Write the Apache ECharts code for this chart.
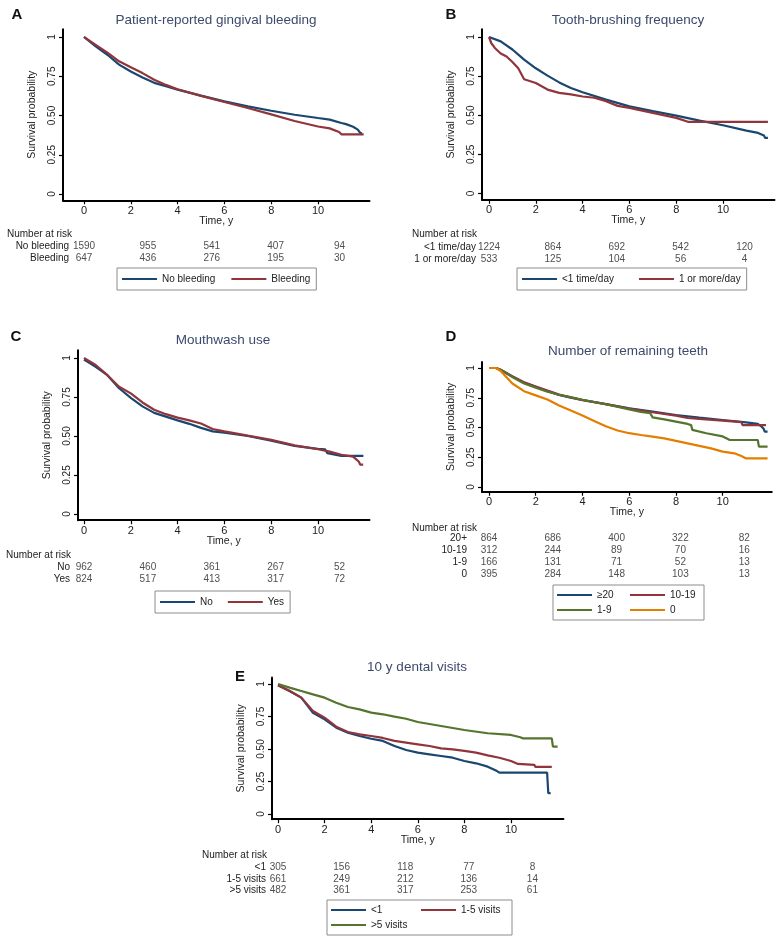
<!DOCTYPE html>
<html>
<head>
<meta charset="utf-8">
<script src="https://cdn.jsdelivr.net/npm/echarts@6/dist/echarts.min.js"></script>
<style>
  html, body { margin: 0; padding: 0; background: #fff; }
  #chart { width: 780px; height: 940px; }
</style>
</head>
<body>
<div id="chart"></div>
<script>
// axis ticks shared by all panels
var xTicks = [0, 2, 4, 6, 8, 10];
var yTicks = [0, 0.25, 0.5, 0.75, 1];
var yTickLabels = ['0', '0.25', '0.50', '0.75', '1'];
var riskTimes = [0, 2.73, 5.46, 8.19, 10.92];

// A - patient-reported gingival bleeding  [time, survival]
var noBleeding = [[0,1],[0.5,0.94],[1,0.887],[1.5,0.824],[2,0.78],[2.5,0.742],[3,0.708],[3.5,0.686],[4,0.665],[5,0.627],[6,0.59],[7,0.558],[8,0.53],[9,0.505],[10,0.484],[10.5,0.474],[11,0.452],[11.2,0.445],[11.5,0.428],[11.7,0.41],[11.8,0.39],[11.88,0.385]];
var bleeding = [[0,1],[0.5,0.95],[1,0.9],[1.5,0.845],[2,0.807],[2.5,0.77],[3,0.728],[3.5,0.695],[4,0.667],[5,0.625],[6,0.586],[7,0.548],[8,0.507],[9,0.465],[10,0.43],[10.5,0.418],[10.9,0.395],[11,0.38],[11.95,0.38]];
var riskNoBleeding = [1590, 955, 541, 407, 94];
var riskBleeding = [647, 436, 276, 195, 30];

// B - tooth-brushing frequency
var brushLess = [[0,1],[0.5,0.972],[1,0.92],[1.5,0.855],[2,0.8],[2.5,0.753],[3,0.71],[3.5,0.674],[4,0.647],[5,0.6],[6,0.557],[7,0.526],[8,0.498],[9,0.466],[10,0.436],[11,0.402],[11.5,0.387],[11.75,0.37],[11.8,0.355],[11.92,0.355]];
var brushMore = [[0,1],[0.1,0.96],[0.25,0.93],[0.5,0.895],[0.75,0.875],[1,0.84],[1.25,0.8],[1.5,0.73],[2,0.706],[2.5,0.664],[3,0.643],[3.5,0.633],[4,0.62],[4.5,0.612],[5,0.59],[5.5,0.56],[6,0.547],[7,0.515],[8,0.483],[8.5,0.458],[11.92,0.458]];
var riskBrushLess = [1224, 864, 692, 542, 120];
var riskBrushMore = [533, 125, 104, 56, 4];

// C - mouthwash use
var mouthNo = [[0,0.99],[0.5,0.944],[1,0.89],[1.5,0.806],[2,0.745],[2.5,0.69],[3,0.648],[3.5,0.624],[4,0.6],[4.5,0.578],[5,0.552],[5.5,0.53],[6,0.522],[7,0.5],[8,0.47],[9,0.437],[10,0.418],[10.3,0.415],[10.4,0.39],[11,0.373],[11.94,0.373]];
var mouthYes = [[0,1],[0.5,0.955],[1,0.89],[1.5,0.816],[2,0.773],[2.5,0.715],[3,0.668],[3.5,0.64],[4,0.618],[4.5,0.6],[5,0.58],[5.5,0.545],[6,0.53],[7,0.502],[8,0.475],[9,0.44],[10,0.415],[10.5,0.4],[11,0.38],[11.5,0.368],[11.6,0.355],[11.75,0.335],[11.8,0.316],[11.93,0.316]];
var riskMouthNo = [962, 460, 361, 267, 52];
var riskMouthYes = [824, 517, 413, 317, 72];

// D - number of remaining teeth
var teeth20 = [[0,1],[0.3,1],[0.5,0.983],[1,0.927],[1.5,0.877],[2,0.843],[2.5,0.807],[3,0.773],[3.5,0.751],[4,0.731],[5,0.697],[6,0.661],[7,0.633],[8,0.605],[9,0.583],[10,0.563],[11,0.543],[11.5,0.53],[11.65,0.51],[11.75,0.49],[11.8,0.465],[11.92,0.465]];
var teeth10 = [[0,1],[0.3,1],[0.5,0.985],[1,0.93],[1.5,0.88],[2,0.845],[2.5,0.81],[3,0.776],[3.5,0.752],[4,0.73],[5,0.697],[6,0.658],[7,0.628],[8,0.6],[8.5,0.58],[9,0.573],[10,0.558],[10.8,0.545],[10.85,0.52],[11.85,0.52]];
var teeth1 = [[0,1],[0.3,1],[0.5,0.985],[1,0.925],[1.5,0.87],[2,0.835],[2.5,0.8],[3,0.775],[3.5,0.755],[4,0.733],[5,0.695],[6,0.652],[6.5,0.63],[6.9,0.62],[7,0.585],[7.5,0.568],[8,0.55],[8.5,0.53],[8.65,0.52],[8.7,0.48],[9.3,0.452],[10,0.425],[10.2,0.405],[10.3,0.395],[11.5,0.395],[11.55,0.34],[11.92,0.34]];
var teeth0 = [[0,1],[0.3,1],[0.5,0.975],[1,0.87],[1.5,0.805],[2,0.77],[2.5,0.735],[3,0.685],[3.5,0.642],[4,0.6],[4.5,0.555],[5,0.51],[5.5,0.475],[6,0.452],[6.5,0.437],[7,0.423],[7.5,0.409],[8,0.387],[8.5,0.367],[9,0.345],[9.5,0.325],[10,0.297],[10.5,0.283],[10.8,0.26],[11,0.24],[11.92,0.24]];
var riskTeeth20 = [864, 686, 400, 322, 82];
var riskTeeth10 = [312, 244, 89, 70, 16];
var riskTeeth1 = [166, 131, 71, 52, 13];
var riskTeeth0 = [395, 284, 148, 103, 13];

// E - 10 y dental visits
var visitsLess1 = [[0,0.99],[0.5,0.946],[1,0.895],[1.5,0.779],[2,0.728],[2.5,0.664],[3,0.626],[3.5,0.6],[4,0.579],[4.5,0.562],[5,0.523],[5.5,0.492],[6,0.472],[6.5,0.459],[7,0.446],[7.5,0.433],[8,0.408],[8.5,0.39],[9,0.364],[9.4,0.33],[9.5,0.318],[11.55,0.318],[11.6,0.16],[11.7,0.16]];
var visits1to5 = [[0,0.99],[0.5,0.946],[1,0.895],[1.5,0.792],[2,0.741],[2.5,0.672],[3,0.631],[3.5,0.613],[4,0.6],[4.5,0.585],[5,0.562],[5.5,0.549],[6,0.536],[6.5,0.523],[7,0.505],[7.5,0.497],[8,0.485],[8.5,0.472],[9,0.451],[9.5,0.433],[10,0.408],[10.3,0.385],[11,0.378],[11.05,0.362],[11.75,0.362]];
var visitsMore5 = [[0,1],[0.5,0.972],[1,0.946],[1.5,0.92],[2,0.895],[2.5,0.856],[3,0.823],[3.5,0.805],[4,0.78],[4.5,0.767],[5,0.749],[5.5,0.733],[6,0.708],[7,0.677],[8,0.646],[9,0.621],[10,0.608],[10.4,0.59],[10.5,0.582],[11.75,0.582],[11.8,0.518],[12,0.518]];
var riskLess1 = [305, 156, 118, 77, 8];
var risk1to5 = [661, 249, 212, 136, 14];
var riskMore5 = [482, 361, 317, 253, 61];

var NAVY = '#1a476f', MAROON = '#90353b', GREEN = '#55752f', ORANGE = '#e37e00';
var FONT = '"Liberation Sans", Arial, Helvetica, sans-serif';

var panels = [
  { letter: 'A', title: 'Patient-reported gingival bleeding',
    lines: [{ name: 'No bleeding', data: noBleeding, color: NAVY }, { name: 'Bleeding', data: bleeding, color: MAROON }],
    rows: ['No bleeding', 'Bleeding'], risk: [riskNoBleeding, riskBleeding],
    axisX: 63, x0: 84, ppy: 23.4, y1: 37, y0: 194, xmax: 12.2,
    titleX: 216, titleY: 20, letterX: 17, letterY: 15, narX: 7, narY: 234, rowY0: 246, labelEnd: 69,
    legend: { left: 117, top: 268, itemGap: 16 } },
  { letter: 'B', title: 'Tooth-brushing frequency',
    lines: [{ name: '<1 time/day', data: brushLess, color: NAVY }, { name: '1 or more/day', data: brushMore, color: MAROON }],
    rows: ['<1 time/day', '1 or more/day'], risk: [riskBrushLess, riskBrushMore],
    axisX: 482, x0: 489, ppy: 23.4, y1: 37, y0: 193.5, xmax: 12.2,
    titleX: 628, titleY: 20, letterX: 451, letterY: 15, narX: 412, narY: 234, rowY0: 247, labelEnd: 476,
    legend: { left: 517, top: 268, itemGap: 25 } },
  { letter: 'C', title: 'Mouthwash use',
    lines: [{ name: 'No', data: mouthNo, color: NAVY }, { name: 'Yes', data: mouthYes, color: MAROON }],
    rows: ['No', 'Yes'], risk: [riskMouthNo, riskMouthYes],
    axisX: 78, x0: 84, ppy: 23.4, y1: 358, y0: 514, xmax: 12.2,
    titleX: 223, titleY: 340, letterX: 16, letterY: 337, narX: 6, narY: 555, rowY0: 567, labelEnd: 70,
    legend: { left: 155, top: 591, itemGap: 15 } },
  { letter: 'D', title: 'Number of remaining teeth',
    lines: [{ name: '\u226520', data: teeth20, color: NAVY }, { name: '10-19', data: teeth10, color: MAROON },
            { name: '1-9', data: teeth1, color: GREEN }, { name: '0', data: teeth0, color: ORANGE }],
    rows: ['20+', '10-19', '1-9', '0'], risk: [riskTeeth20, riskTeeth10, riskTeeth1, riskTeeth0],
    axisX: 482, x0: 489, ppy: 23.37, y1: 368, y0: 487, xmax: 12.1,
    titleX: 628, titleY: 351, letterX: 451, letterY: 337, narX: 412, narY: 528, rowY0: 538.5, labelEnd: 467,
    legend: { left: 553, top: 585, itemGap: 4, textWidth: 29, width: 145 } },
  { letter: 'E', title: '10 y dental visits',
    lines: [{ name: '<1', data: visitsLess1, color: NAVY }, { name: '1-5 visits', data: visits1to5, color: MAROON },
            { name: '>5 visits', data: visitsMore5, color: GREEN }],
    rows: ['<1', '1-5 visits', '>5 visits'], risk: [riskLess1, risk1to5, riskMore5],
    axisX: 272, x0: 278, ppy: 23.3, y1: 684, y0: 814, xmax: 12.25,
    titleX: 417, titleY: 667, letterX: 240, letterY: 677, narX: 202, narY: 855, rowY0: 867, labelEnd: 266,
    legend: { left: 327, top: 900, itemGap: 4, textWidth: 46, width: 180 } }
];

var ROW_STEP = 11.8;
var grid = [], xAxis = [], yAxis = [], series = [], legend = [], graphic = [];

panels.forEach(function (p) {
  var xmin = (p.axisX - p.x0) / p.ppy;
  var right = p.x0 + p.xmax * p.ppy;
  var unit = p.y0 - p.y1;
  var top = p.y1 - 0.05 * unit;
  var bottom = p.y0 + 0.04 * unit;

  // survival plot
  var gi = grid.length;
  grid.push({ left: p.axisX, top: top, width: right - p.axisX, height: bottom - top,
              containLabel: false, outerBoundsMode: 'none' });
  xAxis.push({
    gridIndex: gi, type: 'value', min: xmin, max: p.xmax,
    axisLine: { onZero: false, lineStyle: { color: '#000', width: 2 } },
    axisTick: { customValues: xTicks, length: 4, lineStyle: { color: '#000', width: 1.2 } },
    axisLabel: { customValues: xTicks, fontSize: 11, color: '#222', margin: 5, fontFamily: FONT },
    splitLine: { show: false },
    name: 'Time, y', nameLocation: 'middle', nameGap: 15, nameMoveOverlap: false,
    nameTextStyle: { fontSize: 10.5, color: '#222', fontFamily: FONT }
  });
  yAxis.push({
    gridIndex: gi, type: 'value', min: -0.04, max: 1.05,
    axisLine: { onZero: false, lineStyle: { color: '#000', width: 2 } },
    axisTick: { customValues: yTicks, length: 4, lineStyle: { color: '#000', width: 1.2 } },
    axisLabel: { customValues: yTicks, rotate: 90, fontSize: 10, color: '#222', margin: 6, fontFamily: FONT,
      formatter: function (v) {
        for (var i = 0; i < yTicks.length; i++) if (Math.abs(yTicks[i] - v) < 1e-9) return yTickLabels[i];
        return '';
      } },
    splitLine: { show: false },
    name: 'Survival probability', nameLocation: 'middle', nameGap: 25, nameMoveOverlap: false,
    nameTextStyle: { fontSize: 10.5, color: '#222', fontFamily: FONT }
  });
  p.lines.forEach(function (l) {
    series.push({ type: 'line', name: l.name, xAxisIndex: gi, yAxisIndex: gi, data: l.data,
      showSymbol: false, color: l.color, lineStyle: { width: 2.2, color: l.color }, silent: true });
  });

  // number-at-risk table, on a grid sharing the plot's time scale
  var ri = grid.length;
  grid.push({ left: p.axisX, top: p.rowY0 - ROW_STEP / 2, width: right - p.axisX,
              height: p.rows.length * ROW_STEP, containLabel: false, outerBoundsMode: 'none' });
  xAxis.push({ gridIndex: ri, type: 'value', min: xmin, max: p.xmax, show: false });
  yAxis.push({ gridIndex: ri, type: 'category', data: p.rows, inverse: true,
    axisLine: { show: false }, axisTick: { show: false }, splitLine: { show: false },
    axisLabel: { interval: 0, hideOverlap: false, fontSize: 10, color: '#222',
                 margin: p.axisX - p.labelEnd, fontFamily: FONT } });
  var pts = [];
  p.risk.forEach(function (row, r) {
    row.forEach(function (n, k) { pts.push([riskTimes[k], r, n]); });
  });
  series.push({ type: 'scatter', name: 'risk' + p.letter, xAxisIndex: ri, yAxisIndex: ri, data: pts,
    symbolSize: 0, silent: true,
    label: { show: true, position: 'inside', fontSize: 10, color: '#222', fontFamily: FONT,
      formatter: function (d) { return String(d.value[2]); } } });

  // legend box
  var lg = p.legend;
  legend.push({
    data: p.lines.map(function (l) { return l.name; }),
    left: lg.left, top: lg.top, width: lg.width, orient: 'horizontal',
    icon: 'rect', itemWidth: 35, itemHeight: 2, itemGap: lg.itemGap,
    padding: lg.textWidth ? [4.5, 5, 4.5, 4] : [5.5, 6, 5.5, 5],
    borderColor: '#8c8c8c', borderWidth: 1, selectedMode: false,
    textStyle: { fontSize: 10, color: '#222', lineHeight: 11, fontFamily: FONT, width: lg.textWidth }
  });

  graphic.push({ type: 'text', x: p.titleX, y: p.titleY, silent: true,
    style: { text: p.title, fontSize: 13.5, fontFamily: FONT, fill: '#3c4a6b', align: 'center', verticalAlign: 'middle' } });
  graphic.push({ type: 'text', x: p.letterX, y: p.letterY, silent: true,
    style: { text: p.letter, fontSize: 15, fontWeight: 'bold', fontFamily: FONT, fill: '#111', align: 'center', verticalAlign: 'middle' } });
  graphic.push({ type: 'text', x: p.narX, y: p.narY, silent: true,
    style: { text: 'Number at risk', fontSize: 10, fontFamily: FONT, fill: '#222', align: 'left', verticalAlign: 'middle' } });
});

var myChart = echarts.init(document.getElementById('chart'), null, { renderer: 'canvas' });
myChart.setOption({
  backgroundColor: '#fff',
  animation: false,
  grid: grid,
  xAxis: xAxis,
  yAxis: yAxis,
  legend: legend,
  graphic: graphic,
  series: series
});
</script>
</body>
</html>
